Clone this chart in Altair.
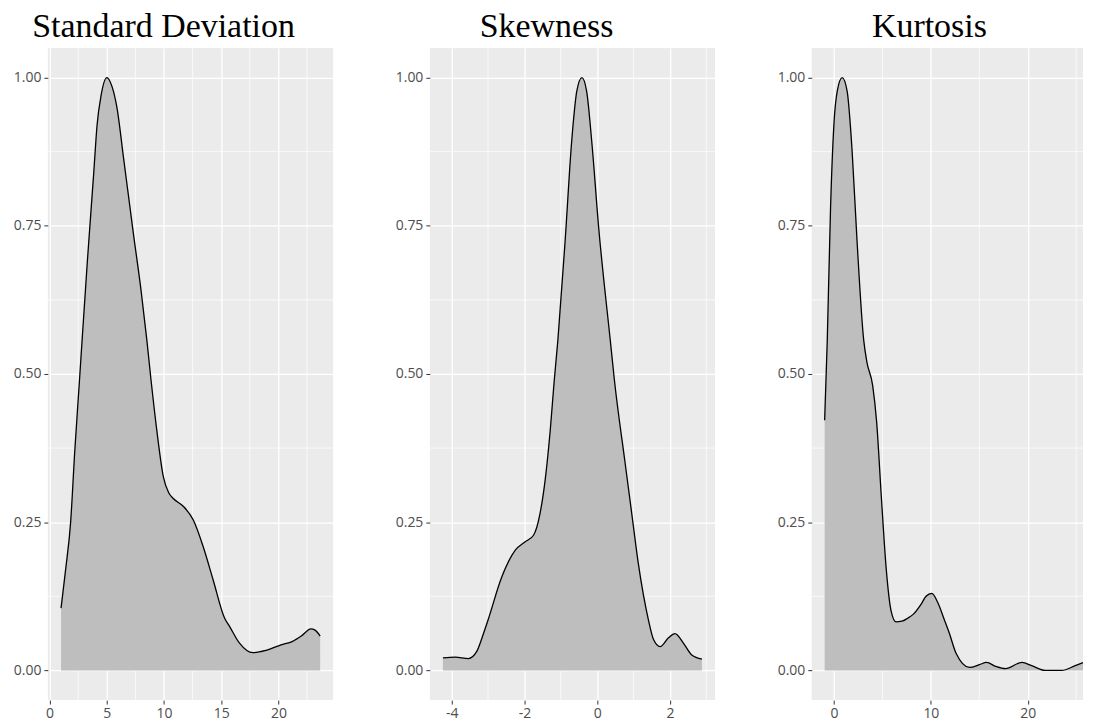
import altair as alt
import pandas as pd

# ---- data (x value, scaled density) ----
sd_x = [1.0, 1.4, 1.83, 2.2, 2.61, 2.84, 3.3, 3.85, 4.15, 4.5, 5.0, 5.45, 5.88, 6.46, 7.33, 8.0, 8.5,
        8.87, 9.37, 9.94, 10.4, 10.81, 11.68, 12.55, 13.42, 14.29, 15.3, 15.74, 16.6, 17.77, 18.93,
        20.23, 21.24, 22.0, 22.84, 23.2, 23.65]
sd_d = [0.105, 0.17, 0.248, 0.37, 0.489, 0.557, 0.69, 0.837, 0.92, 0.97, 1.0, 0.985, 0.95, 0.865, 0.736,
        0.64, 0.557, 0.489, 0.405, 0.327, 0.30, 0.29, 0.277, 0.254, 0.209, 0.153, 0.088, 0.074, 0.046,
        0.030, 0.034, 0.043, 0.049, 0.058, 0.070, 0.068, 0.058]

sk_x = [-4.24, -3.9, -3.54, -3.31, -3.12, -3.0, -2.62, -2.25, -1.98, -1.75, -1.57, -1.43, -1.29, -1.18,
        -1.08, -0.88, -0.70, -0.56, -0.42, -0.29, -0.15, 0.04, 0.36, 0.475, 0.77, 0.95, 1.13, 1.41,
        1.55, 1.73, 1.96, 2.14, 2.37, 2.6, 2.88]
sk_d = [0.021, 0.0225, 0.020, 0.032, 0.063, 0.085, 0.158, 0.203, 0.217, 0.228, 0.265, 0.321, 0.405,
        0.489, 0.557, 0.725, 0.893, 0.977, 1.0, 0.977, 0.893, 0.748, 0.557, 0.489, 0.349, 0.265, 0.181,
        0.085, 0.052, 0.040, 0.055, 0.062, 0.046, 0.026, 0.019]

ku_x = [-0.96, -0.69, -0.35, 0.0, 0.34, 0.85, 1.36, 1.87, 2.38, 3.07, 3.4, 4.0, 4.4, 4.9, 5.4, 5.9, 6.4,
        7.0, 7.6, 8.2, 9.0, 9.5, 10.1, 10.7, 11.4, 11.9, 12.6, 14.0, 15.0, 15.75, 16.7, 17.7, 19.4, 20.4,
        21.8, 23.5, 24.9, 25.7]
ku_d = [0.422, 0.557, 0.781, 0.922, 0.977, 1.0, 0.977, 0.877, 0.725, 0.557, 0.52, 0.48, 0.42, 0.29,
        0.17, 0.10, 0.082, 0.083, 0.088, 0.095, 0.112, 0.125, 0.13, 0.115, 0.085, 0.063, 0.029, 0.005,
        0.0096, 0.0135, 0.0068, 0.003, 0.0135, 0.008, 0.0, 0.0, 0.008, 0.013]

titles = ["Standard Deviation", "Skewness", "Kurtosis"]

y_major = [0, 0.25, 0.5, 0.75, 1.0]
y_minor = [0.125, 0.375, 0.625, 0.875]

sd_major = [0, 5, 10, 15, 20]
sd_minor = [2.5, 7.5, 12.5, 17.5, 22.5]
sk_major = [-4, -2, 0, 2]
sk_minor = [-3, -1, 1, 3]
ku_major = [0, 10, 20]
ku_minor = [5, 15, 25]

LABEL_FONT = "Open Sans"
H = 654


def panel(title, xs, ds, xdomain, xmajor, xminor, width, dx):
    df = pd.DataFrame({"x": xs, "d": ds})
    xsc = alt.Scale(domain=xdomain, nice=False, zero=False)
    ysc = alt.Scale(domain=[-0.05, 1.05], nice=False, zero=False)
    xaxis = alt.Axis(values=xmajor, title=None, grid=True, gridColor="white", gridWidth=1.3,
                     domain=False, tickSize=4, tickColor="#333333", tickWidth=1,
                     labelFont=LABEL_FONT, labelFontSize=14, labelColor="#4D4D4D",
                     labelPadding=2,
                     labelExpr="datum.value < 0 ? '-' + abs(datum.value) : '' + datum.value")
    yaxis = alt.Axis(values=y_major, title=None, grid=True, gridColor="white", gridWidth=1.3,
                     domain=False, tickSize=4, tickColor="#333333", tickWidth=1,
                     labelFont=LABEL_FONT, labelFontSize=14, labelColor="#4D4D4D",
                     labelPadding=3, format=".2f")

    vminor = alt.Chart(pd.DataFrame({"v": xminor})).mark_rule(color="white", strokeWidth=0.7).encode(
        x=alt.X("v:Q", scale=xsc, axis=xaxis))
    hminor = alt.Chart(pd.DataFrame({"v": y_minor})).mark_rule(color="white", strokeWidth=0.7).encode(
        y=alt.Y("v:Q", scale=ysc, axis=yaxis))
    base = alt.Chart(df)
    area = base.mark_area(color="#BEBEBE", interpolate="monotone").encode(
        x=alt.X("x:Q", scale=xsc, axis=xaxis),
        y=alt.Y("d:Q", scale=ysc, axis=yaxis))
    line = base.mark_line(color="black", strokeWidth=1.3, interpolate="monotone").encode(
        x=alt.X("x:Q", scale=xsc, axis=xaxis),
        y=alt.Y("d:Q", scale=ysc, axis=yaxis))
    return alt.layer(vminor, hminor, area, line).properties(
        width=width, height=H,
        title=alt.TitleParams(title, font="Liberation Serif", fontSize=34, fontWeight="normal",
                              color="black", anchor="middle", frame="group", offset=4,
                              baseline="top", dx=dx))


p1 = panel(titles[0], sd_x, sd_d, [-0.15, 24.78], sd_major, sd_minor, 286, -27)
p2 = panel(titles[1], sk_x, sk_d, [-4.6, 3.24], sk_major, sk_minor, 286, -26)
p3 = panel(titles[2], ku_x, ku_d, [-2.29, 25.7], ku_major, ku_minor, 272, -18)

chart = alt.hconcat(p1, p2, p3, spacing=97, bounds="flush").properties(
    padding={"left": 5, "top": 0, "right": 0, "bottom": 0},
    background="white",
).configure_view(fill="#EBEBEB", stroke=None)

chart.save("out.html", embed_options={"renderer": "svg", "actions": False})
